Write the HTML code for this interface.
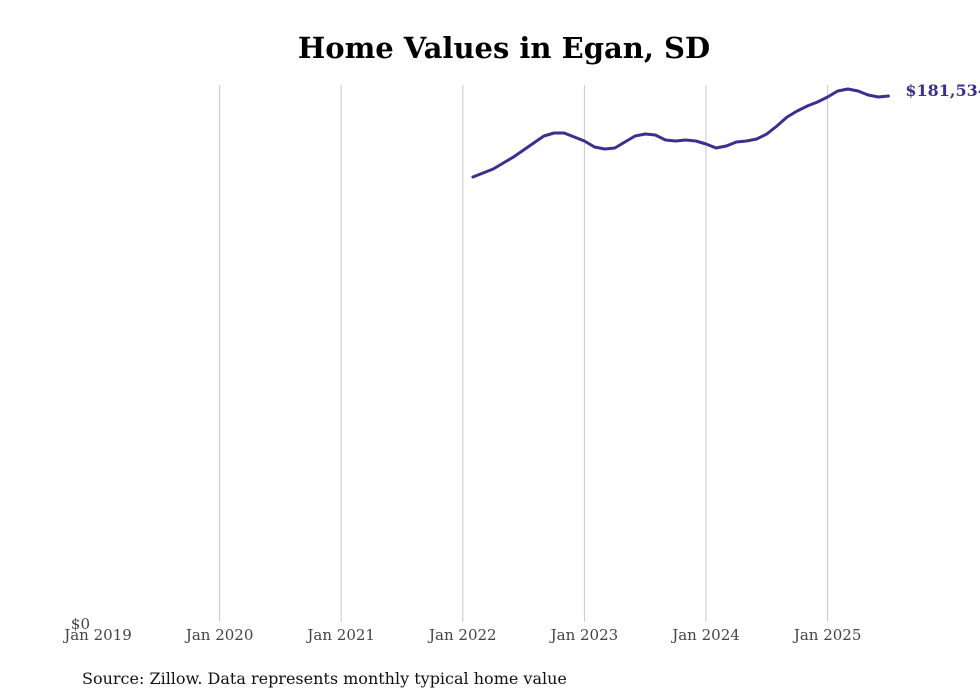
<!DOCTYPE html>
<html><head><meta charset="utf-8"><style>
html,body{margin:0;padding:0;background:#fff;}
svg{display:block;font-family:"DejaVu Serif","Liberation Serif",serif;}
</style></head><body>
<svg id="chart" width="980" height="699">
<text x="504" y="58" text-anchor="middle" font-size="29" font-weight="bold" fill="#000">Home Values in Egan, SD</text>
<g id="grid"></g>
<g id="xaxis"></g>
<text x="90" y="629" text-anchor="end" font-size="15" fill="#444">$0</text>
<g id="series"></g>
<text x="82" y="684" font-size="16" fill="#111">Source: Zillow. Data represents monthly typical home value</text>
</svg>
<script>
const yearTicks = [2019, 2020, 2021, 2022, 2023, 2024, 2025];
const tickLabels = ["Jan 2019","Jan 2020","Jan 2021","Jan 2022","Jan 2023","Jan 2024","Jan 2025"];
const startMonth = [2022, 2]; // Feb 2022
const values = [153634,155012,156390,158457,160524,162935,165346,167757,168790,168790,167412,166034,163968,163279,163623,165690,167757,168446,168101,166379,166034,166379,166034,165001,163623,164312,165690,166034,166723,168446,171202,174302,176369,178091,179469,181192,183259,183948,183259,181881,181192,181534];
const lastLabel = "$181,534";

const NS = "http://www.w3.org/2000/svg";
const x0 = 98, pxPerYear = 121.6;
function xScale(year, month){ return x0 + (year - 2019 + (month - 1)/12) * pxPerYear; }
const yBase = 623, pxPerUnit = 527/181534;
function yScale(v){ return yBase - v * pxPerUnit; }

const grid = document.getElementById('grid');
const xa = document.getElementById('xaxis');
yearTicks.forEach((yr, i) => {
  const x = xScale(yr, 1);
  if (i > 0) {
    const l = document.createElementNS(NS, 'line');
    
    
    l.setAttribute('x1', x); l.setAttribute('x2', x);
    l.setAttribute('y1', 85); l.setAttribute('y2', 622);
    l.setAttribute('stroke', '#c8c8c8'); l.setAttribute('stroke-width', '1');
    grid.appendChild(l);
  }
  const t = document.createElementNS(NS, 'text');
  
  
  t.setAttribute('x', x); t.setAttribute('y', 640);
  t.setAttribute('text-anchor', 'middle'); t.setAttribute('font-size', '15'); t.setAttribute('fill', '#444');
  t.textContent = tickLabels[i];
  xa.appendChild(t);
});

const series = document.getElementById('series');
let d = '', lx = 0, ly = 0;
values.forEach((v, i) => {
  const m = startMonth[1] - 1 + i;
  const yr = startMonth[0] + Math.floor(m / 12);
  const mo = (m % 12) + 1;
  lx = xScale(yr, mo); ly = yScale(v);
  d += (i ? 'L' : 'M') + lx.toFixed(1) + ',' + ly.toFixed(1);
});
const p = document.createElementNS(NS, 'path');


p.setAttribute('d', d); p.setAttribute('fill', 'none');
p.setAttribute('stroke', '#3b2f8f'); p.setAttribute('stroke-width', '3');
p.setAttribute('stroke-linejoin', 'round'); p.setAttribute('stroke-linecap', 'round');
series.appendChild(p);
const lbl = document.createElementNS(NS, 'text');


lbl.setAttribute('x', lx + 17); lbl.setAttribute('y', ly);
lbl.setAttribute('font-size', '16'); lbl.setAttribute('font-weight', 'bold'); lbl.setAttribute('fill', '#3b2f8f');
lbl.textContent = lastLabel;
series.appendChild(lbl);
</script>
</body></html>
